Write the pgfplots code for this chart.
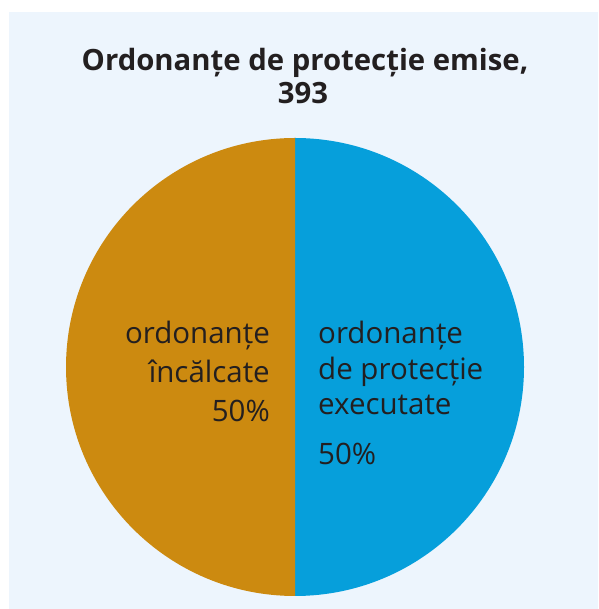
\documentclass[border=0pt]{standalone}
\usepackage{pgfplots}
\pgfplotsset{compat=1.18}
\usepackage{fontspec}
\setmainfont{Open Sans}
\definecolor{bg}{HTML}{EDF5FD}
\definecolor{cblue}{HTML}{069FDB}
\definecolor{corange}{HTML}{CC8A10}
\definecolor{txt}{HTML}{231F20}

\begin{document}
\begin{tikzpicture}
\begin{axis}[
    x=1pt, y=1pt,
    xmin=0, xmax=598,
    ymin=0, ymax=609,
    disabledatascaling,
    hide axis,
    clip=false,
]
% background panel
\fill[white] (axis cs:0,0) rectangle (axis cs:598,609);
\fill[bg] (axis cs:9,0) rectangle (axis cs:598,597);

% pie: executate 50, incalcate 50 (clockwise from top)
\fill[cblue] (axis cs:295,242) -- (axis cs:295,471)
    arc[start angle=90, end angle=-90, radius=229pt] -- cycle;
\fill[corange] (axis cs:295,242) -- (axis cs:295,13)
    arc[start angle=-90, end angle=-270, radius=229pt] -- cycle;

% title
\node[anchor=base, font=\fontsize{29.3}{34}\selectfont\bfseries, text=txt]
    at (axis cs:305,538) {Ordonanțe de protecție emise,};
\node[anchor=base, font=\fontsize{29.3}{34}\selectfont\bfseries, text=txt]
    at (axis cs:303,505) {393};

% slice labels
\tikzset{lbl/.style={font=\fontsize{29.5}{34}\selectfont, text=txt, inner sep=0pt}}
\node[lbl, anchor=base east] at (axis cs:270,265) {ordonanțe};
\node[lbl, anchor=base east] at (axis cs:270,226) {încălcate};
\node[lbl, anchor=base east] at (axis cs:270,187) {50\%};

\node[lbl, anchor=base west] at (axis cs:318,265) {ordonanțe};
\node[lbl, anchor=base west] at (axis cs:318,229) {de protecție};
\node[lbl, anchor=base west] at (axis cs:318,194) {executate};
\node[lbl, anchor=base west] at (axis cs:318,144) {50\%};
\end{axis}
\end{tikzpicture}
\end{document}
